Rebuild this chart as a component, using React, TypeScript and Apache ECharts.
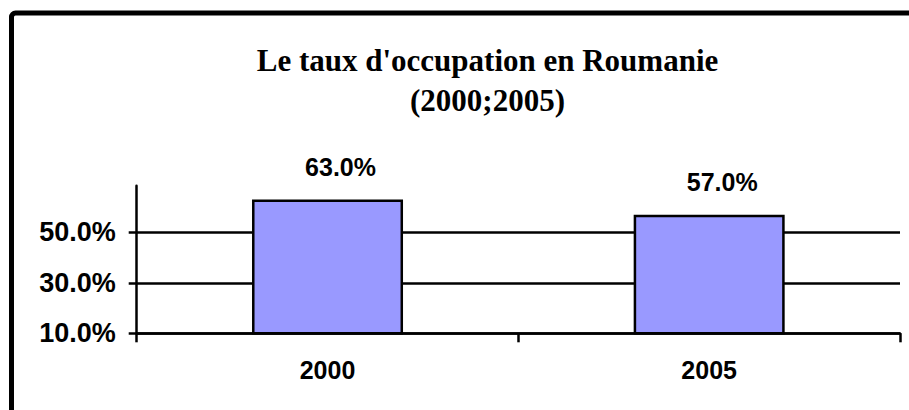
import React, { useEffect, useRef } from "react";
import * as echarts from "echarts";

const categories = ["2000", "2005"];
const values = [63.0, 57.0];
const yTicks = [10, 30, 50];
const titleLines = ["Le taux d'occupation en Roumanie", "(2000;2005)"];

export default function App() {
  const ref = useRef<HTMLDivElement>(null);
  useEffect(() => {
    if (!ref.current) return;
    const chart = echarts.init(ref.current, null, { renderer: "svg" });
    const pct = (v: number) => v.toFixed(1) + "%";
    chart.setOption({
      animation: false,
      backgroundColor: "#ffffff",
      graphic: [
        {
          type: "rect",
          shape: { x: 11.5, y: 13, width: 1200, height: 1200, r: [4, 0, 0, 0] },
          style: { fill: "none", stroke: "#000", lineWidth: 5 },
          z: 100,
        },
        {
          type: "text",
          x: 487.5,
          y: 40,
          style: {
            text: titleLines.join("\n"),
            align: "center",
            verticalAlign: "top",
            font: 'bold 31px "Liberation Serif", "Times New Roman", serif',
            lineHeight: 40,
            fill: "#000",
          },
        },
      ],
      grid: { left: 136.7, right: 9, top: 185.7, bottom: 76.7, containLabel: false },
      xAxis: {
        type: "category",
        data: categories,
        boundaryGap: true,
        axisLine: { show: true, lineStyle: { color: "#000", width: 2.5 } },
        axisTick: { show: true, length: 9, lineStyle: { color: "#000", width: 2.5 } },
        axisLabel: {
          color: "#000",
          fontFamily: '"Liberation Sans", Arial, sans-serif',
          fontWeight: "bold",
          fontSize: 25,
          margin: 24,
        },
        splitLine: { show: false },
      },
      yAxis: {
        type: "value",
        min: 10,
        max: 68.5,
        interval: 20,
        axisLine: { show: true, lineStyle: { color: "#000", width: 2.5 } },
        axisTick: {
          show: true,
          length: 8,
          customValues: yTicks,
          lineStyle: { color: "#000", width: 2.5 },
        },
        axisLabel: {
          customValues: yTicks,
          formatter: (v: number) => pct(v),
          color: "#000",
          fontFamily: '"Liberation Sans", Arial, sans-serif',
          fontWeight: "bold",
          fontSize: 27,
          margin: 21,
        },
        splitLine: {
          show: true,
          lineStyle: { color: "#000", width: 2.5 },
        },
      },
      series: [
        {
          type: "bar",
          data: values,
          barWidth: 151,
          itemStyle: { color: "#9999FF", borderColor: "#000", borderWidth: 2.5 },
          label: {
            show: true,
            position: "top",
            distance: 20,
            offset: [13, 0],
            formatter: (p: any) => pct(p.value),
            color: "#000",
            fontFamily: '"Liberation Sans", Arial, sans-serif',
            fontWeight: "bold",
            fontSize: 25,
          },
        },
      ],
    });
    return () => chart.dispose();
  }, []);
  return (
    <div
      ref={ref}
      style={{ position: "absolute", left: 0, top: 0, width: 909, height: 410 }}
    />
  );
}
